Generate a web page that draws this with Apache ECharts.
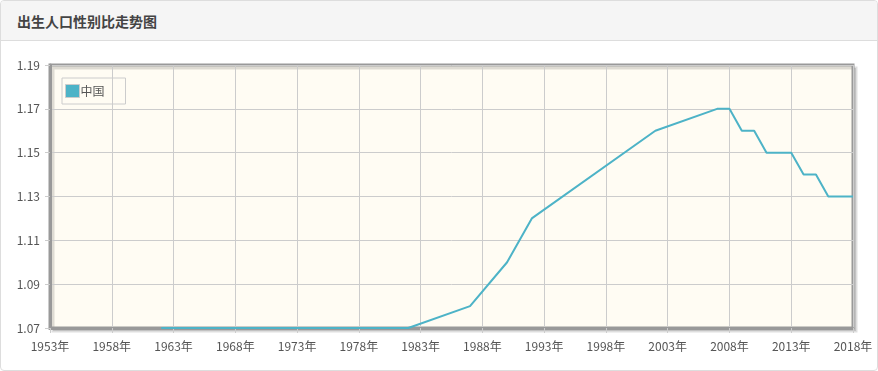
<!DOCTYPE html>
<html><head><meta charset="utf-8">
<script src="https://cdn.jsdelivr.net/npm/echarts@6/dist/echarts.min.js"></script>
<style>
html,body{margin:0;padding:0;background:#fff;}
#card{position:absolute;left:0;top:0;width:876px;height:369px;border:1px solid #ddd;border-radius:4px;overflow:hidden;}
#head{position:absolute;left:0;top:0;width:876px;height:39px;background:#f5f5f5;border-bottom:1px solid #ddd;}
#title{position:absolute;left:16px;top:10px;font-family:"Noto Sans CJK SC",sans-serif;font-weight:bold;font-size:14px;color:#444;line-height:20px;}
#chart{position:absolute;left:0;top:0;width:878px;height:371px;}
</style></head>
<body>
<div id="card"><div id="head"><div id="title">出生人口性别比走势图</div></div></div>
<div id="chart"></div>
<script>
const startYear = 1953, endYear = 2018;
const seriesName = '中国';
const knownYears = [1962, 1982, 1987, 1990, 1992, 2002, 2007, 2008, 2009, 2010, 2011, 2012, 2013, 2014, 2015, 2016, 2017, 2018];
const knownValues = [1.07, 1.07, 1.08, 1.10, 1.12, 1.16, 1.17, 1.17, 1.16, 1.16, 1.15, 1.15, 1.15, 1.14, 1.14, 1.13, 1.13, 1.13];
const yMin = 1.07, yMax = 1.19, yStep = 0.02;

const categories = [];
for (let y = startYear; y <= endYear; y++) categories.push(y + '年');
const values = categories.map(function (c) {
  const i = knownYears.indexOf(parseInt(c, 10));
  return i >= 0 ? knownValues[i] : null;
});

const chart = echarts.init(document.getElementById('chart'));
chart.setOption({
  animation: false,
  textStyle: { fontFamily: '"Noto Sans CJK SC", sans-serif' },
  legend: {
    left: 62, top: 78, padding: [6, 21, 6, 3],
    borderColor: '#ccc', borderWidth: 1,
    itemWidth: 14, itemHeight: 13, itemGap: 2,
    icon: 'rect',
    itemStyle: { borderColor: '#ccc', borderWidth: 1 },
    textStyle: { color: '#555', fontSize: 12, padding: [0, 0, 0, -4] },
    data: [seriesName]
  },
  grid: {
    left: 50, right: 25, top: 65, bottom: 43,
    show: true, backgroundColor: '#fffcf3',
    borderColor: '#999', borderWidth: 3,
    shadowColor: 'rgba(0,0,0,0.13)', shadowBlur: 0, shadowOffsetX: 3, shadowOffsetY: 3
  },
  xAxis: {
    type: 'category', data: categories, boundaryGap: false,
    axisLine: { lineStyle: { color: '#999', width: 3 } },
    axisTick: { interval: 4, length: 5, lineStyle: { color: '#ccc' } },
    axisLabel: { interval: 4, color: '#555', fontSize: 12, margin: 12 },
    splitLine: { show: true, interval: 4, lineStyle: { color: '#ccc', width: 1 } }
  },
  yAxis: {
    type: 'value', min: yMin, max: yMax, interval: yStep,
    axisLine: { show: true, lineStyle: { color: '#999', width: 3 } },
    axisTick: { show: true, length: 5, lineStyle: { color: '#ccc' } },
    axisLabel: { color: '#555', fontSize: 12, margin: 10, formatter: function (v) { return v.toFixed(2); } },
    splitLine: { show: true, lineStyle: { color: '#ccc', width: 1 } }
  },
  series: [{
    name: seriesName, type: 'line', data: values, connectNulls: true,
    showSymbol: false, symbol: 'none',
    lineStyle: { color: '#4db3c7', width: 2 },
    itemStyle: { color: '#4db3c7' }
  }]
});
</script>
</body></html>
